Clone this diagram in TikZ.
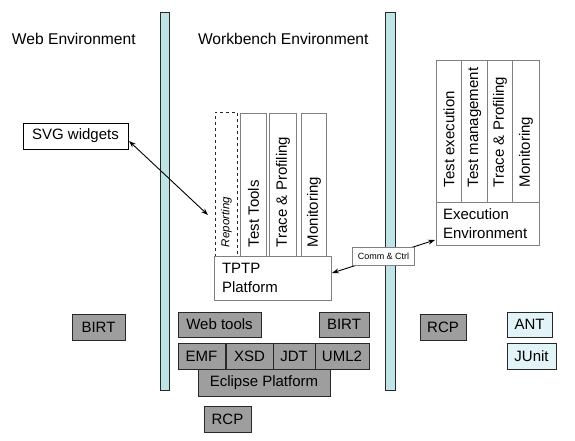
\documentclass[tikz,border=0pt]{standalone}
\usepackage{fontspec}
\setmainfont{Liberation Sans}
\usetikzlibrary{arrows.meta,calc}
\definecolor{barfill}{RGB}{190,228,230}
\definecolor{boxgray}{RGB}{158,158,158}
\definecolor{ltcyan}{RGB}{226,244,248}
\definecolor{edgegray}{RGB}{128,128,128}
\definecolor{edgedark}{RGB}{40,40,40}
\begin{document}
\begin{tikzpicture}[x=1pt,y=-1pt,
  every node/.style={inner sep=0pt, outer sep=0pt},
  bar/.style={draw=edgedark, fill=barfill, line width=0.9pt},
  hdr/.style={font=\fontsize{15.6}{18}\selectfont, anchor=base west},
  vbox/.style={draw=edgegray, line width=0.9pt},
  vtext/.style={rotate=90, anchor=west, font=\fontsize{15}{18}\selectfont},
  wbox/.style={draw=edgegray, fill=white, line width=0.9pt, align=left, font=\fontsize{15}{19}\selectfont},
  gbox/.style={draw=edgedark, fill=boxgray, line width=0.9pt, font=\fontsize{15}{18}\selectfont},
  cbox/.style={draw=edgedark, fill=ltcyan, line width=0.9pt, font=\fontsize{15}{18}\selectfont},
  link/.style={line width=0.9pt, {Stealth[length=7pt,width=5pt]}-{Stealth[length=7pt,width=5pt]}},
]
\useasboundingbox (0,0) rectangle (575,440);

% separator bars
\node[bar, minimum width=9, minimum height=378] (barL) at (164.5,201) {};
\node[bar, minimum width=10, minimum height=378] (barR) at (390,201) {};

% headers
\node[hdr] (hweb) at (12,44) {Web Environment};
\node[hdr] (hwb) at (198,44) {Workbench Environment};

% web side
\node[draw=black, line width=0.9pt, minimum width=105, minimum height=26, font=\fontsize{15}{18}\selectfont] (svg) at (75.5,136) {SVG widgets};

% workbench stack
\node[vbox, dashed, draw=edgedark, minimum width=22, minimum height=144] (rep) at (226,184) {};
\node[vbox, minimum width=26, minimum height=143] (tt) at (253,184.5) {};
\node[vbox, minimum width=27, minimum height=143] (tp1) at (282.5,184.5) {};
\node[vbox, minimum width=25, minimum height=143] (mon1) at (313.5,184.5) {};
\node[vtext, font=\itshape\fontsize{11.5}{14}\selectfont] (repT) at (226.5,247) {Reporting};
\node[vtext] (ttT) at (253.5,247) {Test Tools};
\node[vtext] (tp1T) at (283,247) {Trace \& Profiling};
\node[vtext] (mon1T) at (314,247) {Monitoring};
\node[wbox, text width=101pt, inner xsep=8pt, minimum height=44] (tptp) at (272.5,278) {TPTP\\Platform};

% execution stack
\node[vbox, minimum width=25, minimum height=142] (te) at (448.5,131) {};
\node[vbox, minimum width=26, minimum height=142] (tm) at (474,131) {};
\node[vbox, minimum width=25, minimum height=142] (tp2) at (499.5,131) {};
\node[vbox, minimum width=27, minimum height=142] (mon2) at (525.5,131) {};
\node[vtext] (teT) at (449,187) {Test execution};
\node[vtext] (tmT) at (474.5,187) {Test management};
\node[vtext] (tp2T) at (500,187) {Trace \& Profiling};
\node[vtext] (mon2T) at (526,187) {Monitoring};
\node[wbox, text width=89pt, inner xsep=7pt, minimum height=43] (exe) at (487.5,223.5) {Execution\\Environment};

% bottom component boxes
\node[gbox, minimum width=53, minimum height=26] (birtL) at (98.5,327) {BIRT};
\node[gbox, minimum width=83, minimum height=25] (web) at (219.5,324.5) {Web tools};
\node[gbox, minimum width=50, minimum height=25] (birtM) at (344,324.5) {BIRT};
\node[gbox, minimum width=47, minimum height=26] (emf) at (201.5,356) {EMF};
\node[gbox, minimum width=47, minimum height=26] (xsd) at (249.5,356) {XSD};
\node[gbox, minimum width=42, minimum height=26] (jdt) at (294,356) {JDT};
\node[gbox, minimum width=54, minimum height=26] (uml) at (342,356) {UML2};
\node[gbox, minimum width=132, minimum height=27] (ecl) at (264,382.5) {Eclipse Platform};
\node[gbox, minimum width=47, minimum height=26] (rcpB) at (227.5,419) {RCP};
\node[gbox, minimum width=46, minimum height=26] (rcpR) at (443,327) {RCP};
\node[cbox, minimum width=45, minimum height=25] (ant) at (529.5,324.5) {ANT};
\node[cbox, minimum width=49, minimum height=26] (junit) at (531.5,356) {JUnit};

% connectors
\draw[link] ($(svg.east)+(1,5)$) -- ($(rep.west)+(-7,31)$);
\draw[link] ($(tptp.east)+(1,-5)$) -- node[midway, fill=white, draw=edgegray, line width=0.7pt, minimum width=62, minimum height=18, font=\fontsize{9}{11}\selectfont] (comm) {Comm \& Ctrl} ($(exe.south west)+(-1,-5)$);
\end{tikzpicture}
\end{document}
